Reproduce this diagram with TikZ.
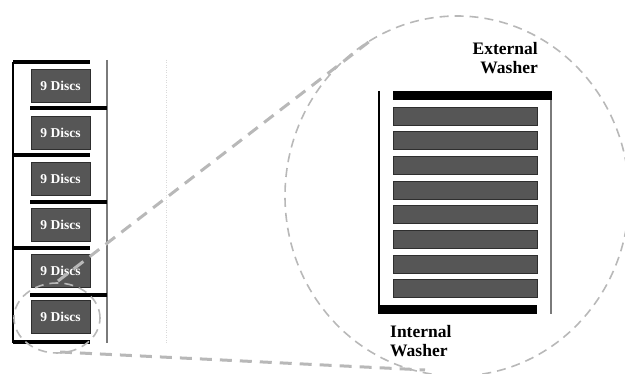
\documentclass[tikz,border=0pt]{standalone}
\usepackage{fontspec}
\setmainfont{Liberation Serif}
\usetikzlibrary{shapes.geometric}
\definecolor{discgray}{HTML}{565656}
\definecolor{discedge}{HTML}{2E2E2E}
\definecolor{zoomgray}{HTML}{B8B8B8}
\definecolor{wallgray}{HTML}{7A7A7A}
\begin{document}
\begin{tikzpicture}[x=1pt,y=-1pt,
  washer/.style={fill=black, draw=none},
  wall/.style={draw=black, line width=1.4pt},
  wallr/.style={draw=wallgray, line width=1.6pt},
  discbox/.style={fill=discgray, draw=discedge, line width=0.8pt, inner sep=0pt,
    minimum width=59pt, minimum height=33pt, text=white,
    font=\bfseries\fontsize{13.5}{15}\selectfont},
  discbar/.style={fill=discgray, draw=discedge, line width=0.8pt, inner sep=0pt,
    minimum width=144pt, minimum height=18pt},
  lbl/.style={inner sep=0pt, font=\bfseries\fontsize{17.5}{19}\selectfont},
  zoomring/.style={draw=zoomgray, ellipse, line width=1.6pt, dash pattern=on 9pt off 6pt, inner sep=0pt},
  zoomline/.style={draw=zoomgray, line width=3pt, dash pattern=on 12pt off 8pt}
]
\useasboundingbox (0,0) rectangle (625,374);

% faint guide
\draw[gray!30, line width=0.5pt, dotted] (166,60) -- (166,343);

% ---- left stack ----
\draw[wall] (13,62) -- (13,343);
\draw[wallr] (107,60) -- (107,343);
\foreach \yy in {62,155,248,342} { \fill[washer] (13,\yy-2.2) rectangle (90,\yy+2.2); }
\foreach \yy in {108,202,295} { \fill[washer] (30,\yy-2.2) rectangle (107,\yy+2.2); }
\node[discbox] (b1) at (60.5,85.5) {9 Discs};
\node[discbox] (b2) at (60.5,132.5) {9 Discs};
\node[discbox] (b3) at (60.5,178.5) {9 Discs};
\node[discbox] (b4) at (60.5,225) {9 Discs};
\node[discbox] (b5) at (60.5,270.5) {9 Discs};
\node[discbox] (b6) at (60.5,317) {9 Discs};

% ---- zoom indicator ----
\node[zoomring, minimum width=86pt, minimum height=70pt] (small) at (57,318) {};
\node[zoomring, minimum width=344pt, minimum height=360pt] (big) at (457,196) {};
\coordinate (s1) at (58,281);
\coordinate (e1) at (370,41);
\coordinate (s2) at (60,352);
\coordinate (e2) at (425,370);
\draw[zoomline] (s1) -- (e1);
\draw[zoomline] (s2) -- (e2);

% ---- detail ----
\draw[wall] (379,91) -- (379,314);
\draw[wallr] (551,91) -- (551,314);
\fill[washer] (393,91) rectangle (552,100);
\fill[washer] (379,305) rectangle (537,314);
\foreach \i in {0,...,7} {
  \node[discbar] (d\i) at (465,116+24.7*\i) {};
}
\node[lbl, anchor=north east, align=right] (ext) at (538,42) {External\\Washer};
\node[lbl, anchor=north west, align=left] (int) at (390,325) {Internal\\Washer};
\end{tikzpicture}
\end{document}
